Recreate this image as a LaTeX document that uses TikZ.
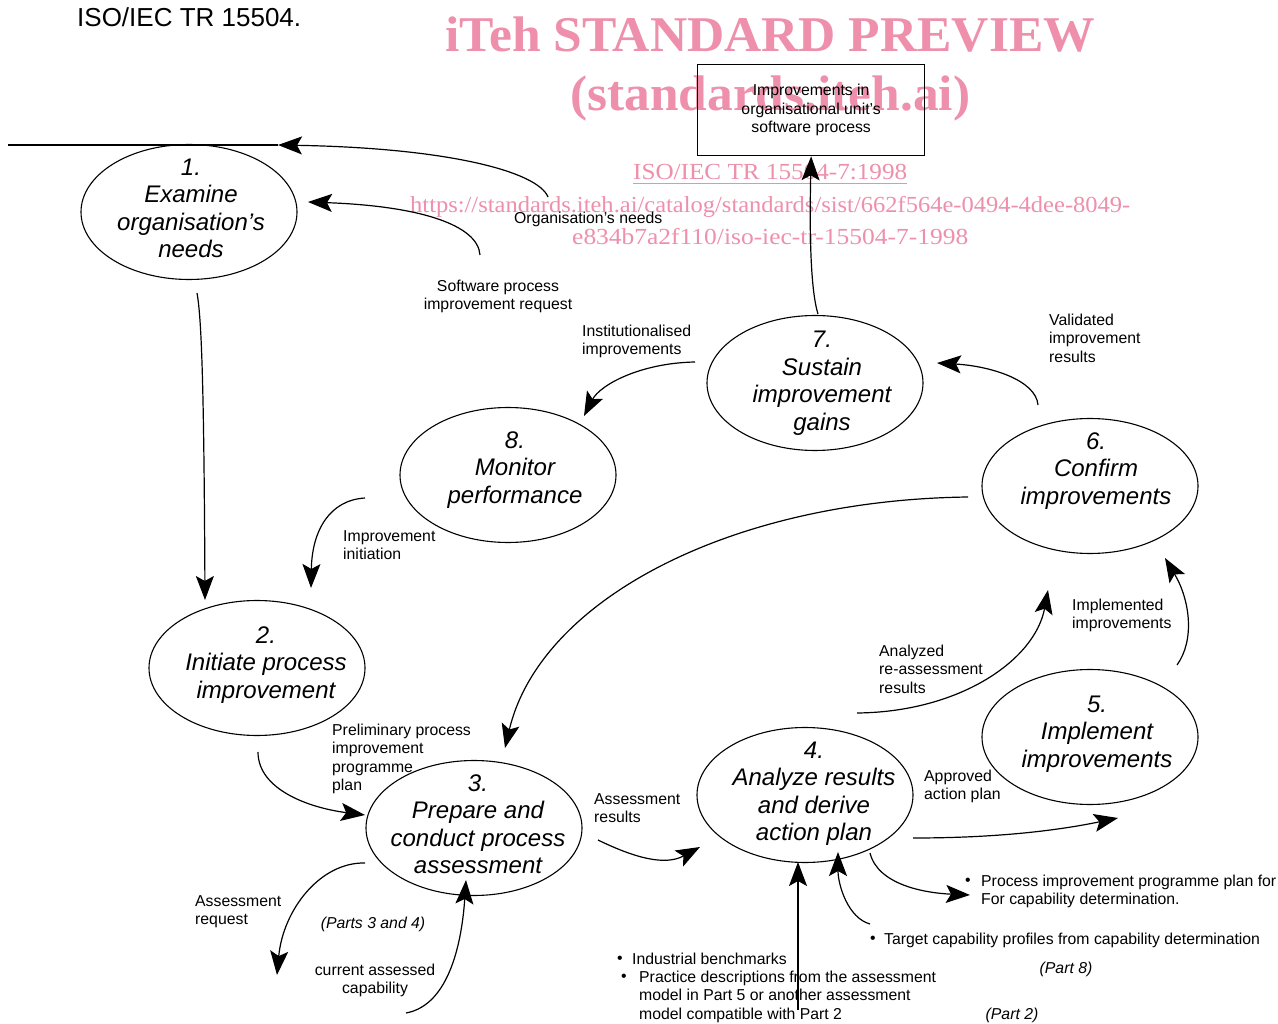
\documentclass[tikz,border=0pt]{standalone}
\usepackage{fontspec}
\setmainfont{Liberation Sans}
\newfontfamily\wmfont{Liberation Serif}
\usetikzlibrary{arrows.meta,shapes.geometric}
\definecolor{wmpink}{RGB}{238,143,172}
\begin{document}
\begin{tikzpicture}[x=1pt,y=-1pt,
  proc/.style={ellipse, draw, line width=1.1pt, minimum width=216pt, minimum height=135pt, inner sep=0pt},
  ptext/.style={font=\fontsize{24}{27.5}\selectfont\itshape, align=center, inner sep=0pt},
  lbl/.style={font=\fontsize{15.8}{18.3}\selectfont, align=left, anchor=north west, inner sep=0pt},
  lblc/.style={lbl, align=center, anchor=north},
  ital/.style={font=\fontsize{15.8}{18}\selectfont\itshape, inner sep=0pt},
  bul/.style={font=\fontsize{15.8}{18}\selectfont, inner sep=0pt},
  conn/.style={line width=1.2pt},
  arr/.style={conn, -{Stealth[length=24pt,width=18pt,inset=5pt]}},
  wm/.style={text=wmpink, inner sep=0pt, anchor=base west, font=\wmfont}
]
\fill[white] (0,0) rectangle (1278,1024);
\useasboundingbox (0,0) rectangle (1278,1024);

% watermark
\node[wm] (wm1) at (445,52) {\resizebox{650pt}{\height}{\fontsize{50}{50}\selectfont\bfseries iTeh STANDARD PREVIEW}};
\node[wm] (wm2) at (570,111) {\resizebox{400pt}{\height}{\fontsize{50}{50}\selectfont\bfseries (standards.iteh.ai)}};
\node[wm] (wm3) at (633,180) {\resizebox{274pt}{\height}{\fontsize{23}{23}\selectfont ISO/IEC TR 15504-7:1998}};
\draw[wmpink, line width=1pt] (wm3.base west) ++(0,4) -- ++(274,0);
\node[wm] (wm4) at (410,213) {\resizebox{720pt}{\height}{\fontsize{23}{23}\selectfont https://standards.iteh.ai/catalog/standards/sist/662f564e-0494-4dee-8049-}};
\node[wm] (wm5) at (572,245) {\resizebox{396pt}{\height}{\fontsize{23}{23}\selectfont e834b7a2f110/iso-iec-tr-15504-7-1998}};

% header
\node[font=\fontsize{26}{26}\selectfont, anchor=west, inner sep=0pt] (hdr) at (77,17) {ISO/IEC TR 15504.};

% box
\node[draw, line width=1.3pt, minimum width=227pt, minimum height=91pt, anchor=north west, inner sep=0pt,
      font=\fontsize{15.8}{18.5}\selectfont, align=center] (box) at (697,64) {Improvements in\\organisational unit’s\\software process};

% process ellipses
\node[proc, label={[ptext, xshift=2pt, yshift=3.5pt]center:{1.\\Examine\\organisation’s\\needs}}] (n1) at (189,212) {};
\node[proc, label={[ptext, xshift=9pt, yshift=3pt]center:{2.\\Initiate process\\improvement}}] (n2) at (257,668) {};
\node[proc, label={[ptext, xshift=4pt, yshift=4pt]center:{3.\\Prepare and\\conduct process\\assessment}}] (n3) at (474,828) {};
\node[proc, label={[ptext, xshift=9pt, yshift=1.5pt]center:{4.\\Analyze results\\and derive\\action plan}}] (n4) at (805,795) {};
\node[proc, label={[ptext, xshift=7pt, yshift=3pt]center:{5.\\Implement\\improvements}}] (n5) at (1090,737) {};
\node[proc, label={[ptext, xshift=6pt, yshift=15pt]center:{6.\\Confirm\\improvements}}] (n6) at (1090,486) {};
\node[proc, label={[ptext, xshift=7pt]center:{7.\\Sustain\\improvement\\gains}}] (n7) at (815,383) {};
\node[proc, label={[ptext, xshift=7pt, yshift=5pt]center:{8.\\Monitor\\performance}}] (n8) at (508,475) {};

% labels
\node[lblc] (lsr) at (498,280) {Software process\\improvement request};
\node[lbl] (lon) at (514,212) {Organisation’s needs};
\node[lbl] (lin) at (582,325) {Institutionalised\\improvements};
\node[lbl] (lva) at (1049,314) {Validated\\improvement\\results};
\node[lbl] (lii) at (343,530) {Improvement\\initiation};
\node[lbl] (lim) at (1072,599) {Implemented\\improvements};
\node[lbl] (lan) at (879,645) {Analyzed\\re-assessment\\results};
\node[lbl] (lpr) at (332,724) {Preliminary process\\improvement\\programme\\plan};
\node[lbl] (lar) at (594,793) {Assessment\\results};
\node[lbl] (lap) at (924,770) {Approved\\action plan};
\node[lbl] (laq) at (195,895) {Assessment\\request};
\node[ital] (lp34) at (373,924) {(Parts 3 and 4)};
\node[lblc] (lca) at (375,964) {current assessed\\capability};
\node[bul] (b1) at (968,882) {•};
\node[lbl] (lpi) at (981,875) {Process improvement programme plan for\\For capability determination.};
\node[bul] (b2) at (873,940) {•};
\node[lbl] (ltc) at (884,933) {Target capability profiles from capability determination};
\node[ital] (lp8) at (1066,969) {(Part 8)};
\node[bul] (b3) at (620,960) {•};
\node[lbl] (lib) at (632,953) {Industrial benchmarks};
\node[bul] (b4) at (624,978) {•};
\node[lbl] (lpd) at (639,971) {Practice descriptions from the assessment\\model in Part 5 or another assessment\\model compatible with Part 2};
\node[ital] (lp2) at (1012,1015) {(Part 2)};

% connector end points
\coordinate (onS) at (548,197);
\coordinate (onM) at (278,145);
\coordinate (onE) at (8,145);
\coordinate (srS) at (480,255);
\coordinate (srE) at (308,202);
\coordinate (a12S) at (197,293);
\coordinate (a12E) at (205,600);
\coordinate (iiS) at (365,498);
\coordinate (iiE) at (311,588);
\coordinate (inS) at (695,362);
\coordinate (inE) at (584,416);
\coordinate (a7S) at (818,314);
\coordinate (vaS) at (1038,405);
\coordinate (vaE) at (937,363);
\coordinate (a63S) at (968,497);
\coordinate (a63E) at (505,748);
\coordinate (anS) at (857,713);
\coordinate (anE) at (1048,590);
\coordinate (imS) at (1177,665);
\coordinate (imE) at (1165,558);
\coordinate (apS) at (913,838);
\coordinate (apE) at (1118,818);
\coordinate (a23S) at (258,752);
\coordinate (a23E) at (365,815);
\coordinate (arS) at (598,840);
\coordinate (arE) at (700,847);
\coordinate (aqS) at (365,863);
\coordinate (aqE) at (277,975);
\coordinate (caS) at (406,1013);
\coordinate (caE) at (466,880);
\coordinate (piS) at (870,853);
\coordinate (piE) at (970,895);
\coordinate (tcS) at (870,924);
\coordinate (tcE) at (838,852);
\coordinate (ibS) at (798,1010);
\coordinate (ibE) at (798,862);

% connectors
\draw[arr] (onS) .. controls (538,172) and (450,148) .. (onM);
\draw[conn] (onM) -- (onE);
\draw[arr] (srS) .. controls (478,225) and (420,206) .. (srE);
\draw[arr] (a12S) .. controls (202,320) and (204,400) .. (a12E);
\draw[arr] (iiS) .. controls (330,500) and (312,530) .. (iiE);
\draw[arr] (inS) .. controls (640,363) and (600,385) .. (inE);
\draw[arr] (a7S) .. controls (812,295) and (809,250) .. (box.south);
\draw[arr] (vaS) .. controls (1036,380) and (990,366) .. (vaE);
\draw[arr] (a63S) .. controls (730,500) and (540,600) .. (a63E);
\draw[arr] (anS) .. controls (960,712) and (1035,660) .. (anE);
\draw[arr] (imS) .. controls (1195,640) and (1190,600) .. (imE);
\draw[arr] (apS) .. controls (1000,838) and (1060,830) .. (apE);
\draw[arr] (a23S) .. controls (258,790) and (310,808) .. (a23E);
\draw[arr] (arS) .. controls (635,858) and (665,866) .. (arE);
\draw[arr] (aqS) .. controls (320,862) and (283,910) .. (aqE);
\draw[arr] (caS) .. controls (450,1005) and (462,940) .. (caE);
\draw[arr] (piS) .. controls (878,885) and (925,893) .. (piE);
\draw[arr] (tcS) .. controls (848,918) and (838,885) .. (tcE);
\draw[arr] (ibS) -- (ibE);
\end{tikzpicture}
\end{document}
